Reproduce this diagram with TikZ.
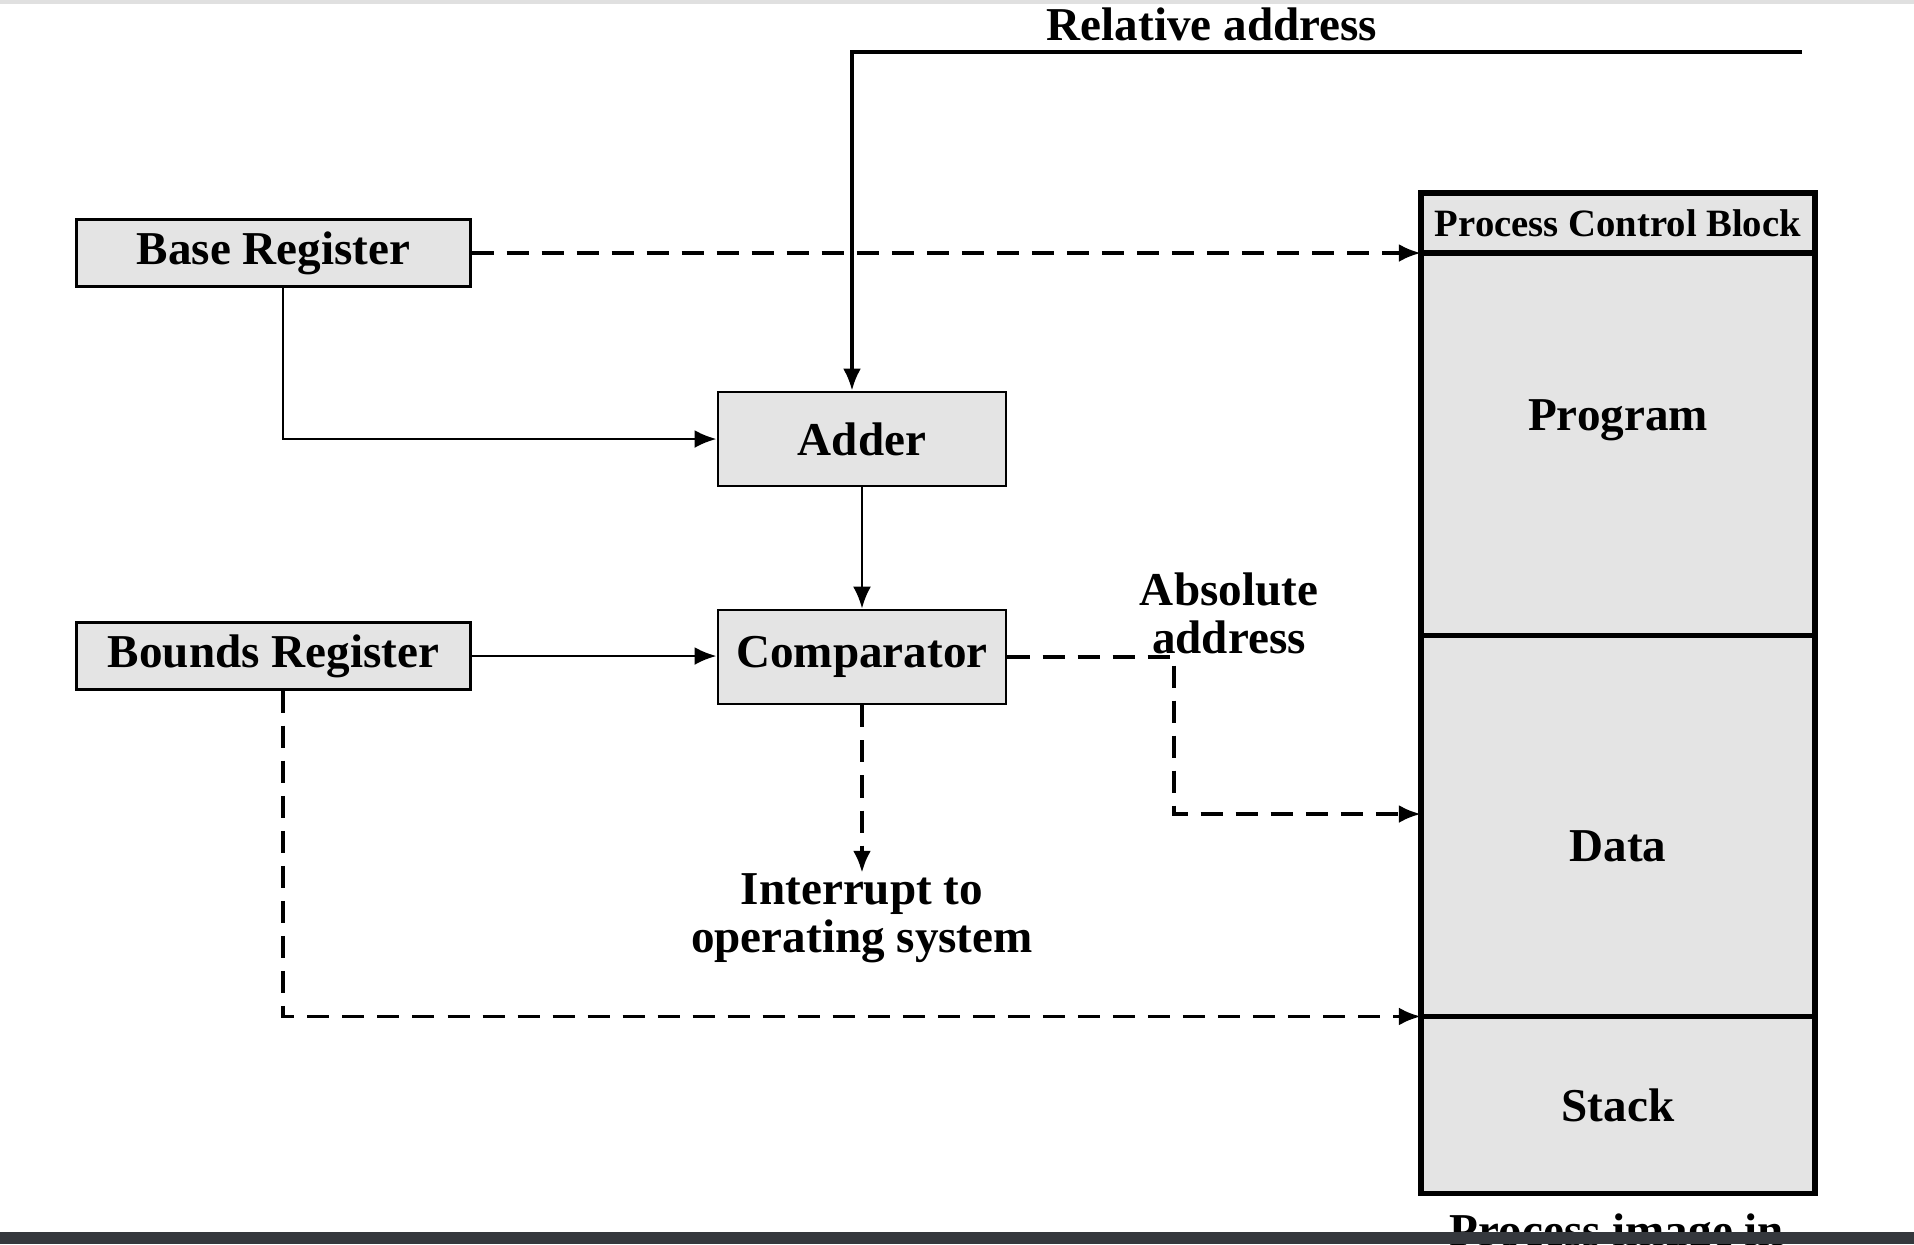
\documentclass[tikz,border=0pt]{standalone}
\usepackage{fontspec}
\setmainfont{Liberation Serif}
\usetikzlibrary{arrows.meta,positioning}

\definecolor{boxgray}{RGB}{228,228,228}
\definecolor{bandgray}{RGB}{53,56,61}
\newcommand{\bigfont}{\fontsize{13.4}{13.6}\selectfont\bfseries}
\newcommand{\smallfont}{\fontsize{11}{12}\selectfont\bfseries}

\tikzset{
  >={Latex[length=2.2mm,width=1.8mm]},
  regbox/.style={draw, line width=0.8pt, fill=boxgray, font=\bigfont},
  memrow/.style={draw, line width=1.5pt, fill=boxgray, minimum width=3.94cm, outer sep=0pt},
  dashline/.style={dash pattern=on 2.2mm off 1.3mm, line width=1.1pt},
  solidline/.style={line width=0.8pt},
  txt/.style={font=\bigfont, align=center, inner sep=2pt}
}

\begin{document}
\begin{tikzpicture}[x=0.01cm, y=-0.01cm]
      \useasboundingbox (0,0) rectangle (1914,1244);
      \fill[black!12] (0,0) rectangle (1914,4);

      % draw the registers, adder and comparator
      \node[regbox, minimum width=3.93cm, minimum height=0.6cm] (base) at (273.5,253) {Base Register};
      \node[regbox, minimum width=3.93cm, minimum height=0.6cm] (bounds) at (273.5,656) {Bounds Register};
      \node[regbox, minimum width=2.88cm, minimum height=0.94cm] (adder) at (862,439) {Adder};
      \node[regbox, minimum width=2.88cm, minimum height=0.94cm] (comp) at (862,657) {Comparator};

      % draw the process image
      \node[memrow, minimum height=0.6cm, inner xsep=1pt, font=\smallfont] (pcb) at (1618,223) {Process Control Block};
      \node[memrow, minimum height=3.82cm, below=0pt of pcb,
            label={[font=\bigfont, yshift=0.24cm]center:Program}] (prog) {};
      \node[memrow, minimum height=3.81cm, below=0pt of prog,
            label={[font=\bigfont, yshift=-0.2cm]center:Data}] (data) {};
      \node[memrow, minimum height=1.77cm, below=0pt of data,
            label={[font=\bigfont]center:Stack}] (stack) {};
      \node[txt, anchor=base] (caption) at (1617,1246) {Process image in};

      % draw the texts
      \node[txt] (rel) at (1212,24) {Relative address};
      \node[txt] (abs) at (1229,613) {Absolute\\address};
      \node[txt, inner ysep=0pt] (intr) at (862,918) {Interrupt to\\operating system};

      % draw the connectors
      \coordinate (relstart) at (1802,52);
      \coordinate (relbend) at (852,52);
      \draw[->, line width=1pt] (relstart) -- (relbend) -- (relbend |- adder.north);

      \draw[->, solidline] ([xshift=0.095cm]base.south) |- (adder.west);
      \draw[->, dashline] (base.east) -- (base.east -| pcb.west);
      \draw[->, solidline] (adder.south) -- (comp.north);
      \draw[->, solidline] (bounds.east) -- (bounds.east -| comp.west);

      \coordinate (absbend) at (1174,814);
      \draw[->, dashline] (comp.east) -| (absbend) -- (absbend -| data.west);
      \draw[->, dashline] (comp.south) -- (intr.north);
      \draw[->, dashline] ([xshift=0.095cm]bounds.south) |- (stack.north west);

      % the dark band at the bottom
      \fill[bandgray] (0,1232) rectangle (1914,1244);
\end{tikzpicture}
\end{document}
